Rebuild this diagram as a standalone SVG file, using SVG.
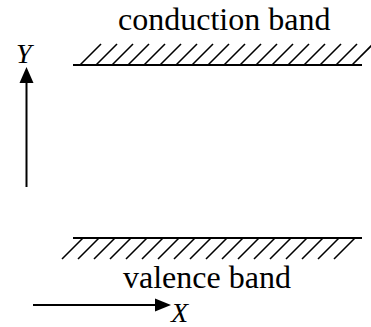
<svg xmlns="http://www.w3.org/2000/svg" width="371" height="327" viewBox="0 0 371 327">
<style>
.ln{stroke:#000;stroke-width:2;fill:none}
.h{stroke:#000;stroke-width:1.6;fill:none}
text{font-family:'Liberation Serif','Times New Roman',Times,serif;fill:#000}
.t{font-size:32px}
.ax{font-size:28px;font-style:italic}
</style>
<defs>
<path id="hu" d="M0,0 l21,-21" class="h"/>
<path id="hd" d="M0,0 l-21,21" class="h"/>
</defs>
<rect width="371" height="327" fill="#fff"/>
<g id="conduction-band">
<line x1="73" y1="65" x2="362" y2="65" class="ln"/>
<use href="#hu" x="80" y="65"/><use href="#hu" x="96" y="65"/><use href="#hu" x="112" y="65"/><use href="#hu" x="128" y="65"/><use href="#hu" x="144" y="65"/><use href="#hu" x="160" y="65"/><use href="#hu" x="176" y="65"/><use href="#hu" x="192" y="65"/><use href="#hu" x="208" y="65"/><use href="#hu" x="224" y="65"/><use href="#hu" x="240" y="65"/><use href="#hu" x="256" y="65"/><use href="#hu" x="272" y="65"/><use href="#hu" x="288" y="65"/><use href="#hu" x="304" y="65"/><use href="#hu" x="320" y="65"/><use href="#hu" x="336" y="65"/><use href="#hu" x="352" y="65"/>
<text x="118" y="30" class="t" font-family="Liberation Serif, serif">conduction band</text>
</g>
<g id="valence-band">
<line x1="73" y1="238" x2="362" y2="238" class="ln"/>
<use href="#hd" x="83" y="238"/><use href="#hd" x="99" y="238"/><use href="#hd" x="115" y="238"/><use href="#hd" x="131" y="238"/><use href="#hd" x="147" y="238"/><use href="#hd" x="163" y="238"/><use href="#hd" x="179" y="238"/><use href="#hd" x="195" y="238"/><use href="#hd" x="211" y="238"/><use href="#hd" x="227" y="238"/><use href="#hd" x="243" y="238"/><use href="#hd" x="259" y="238"/><use href="#hd" x="275" y="238"/><use href="#hd" x="291" y="238"/><use href="#hd" x="307" y="238"/><use href="#hd" x="323" y="238"/><use href="#hd" x="339" y="238"/><use href="#hd" x="355" y="238"/>
<text x="123" y="288" class="t" font-family="Liberation Serif, serif">valence band</text>
</g>
<g id="connectors">
<line x1="26.5" y1="187" x2="26.5" y2="80" class="ln"/>
<polygon points="26.5,67 19.5,83 33.5,83" fill="#000"/>
<line x1="33" y1="305" x2="157" y2="305" class="ln"/>
<polygon points="171,305 155,298.5 155,311.5" fill="#000"/>
</g>
<g id="axis-y"><text x="16" y="63" class="ax" font-family="Liberation Serif, serif">Y</text></g>
<g id="axis-x"><text x="171" y="322" class="ax" font-family="Liberation Serif, serif">X</text></g>
</svg>
